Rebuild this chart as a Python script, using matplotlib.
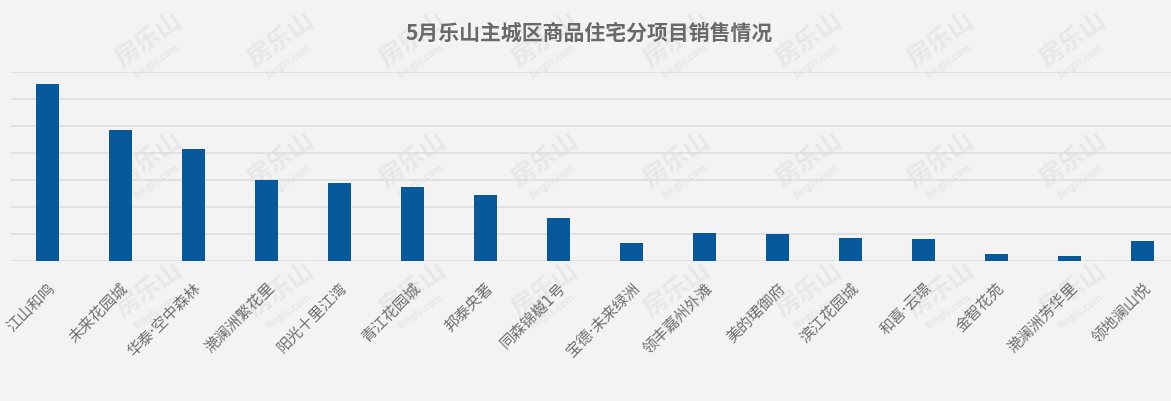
#!/usr/bin/env python

"""5月乐山主城区商品住宅分项目销售情况 bar chart."""

import numpy as np
import matplotlib
matplotlib.use('Agg')
import matplotlib.pyplot as plt

plt.rcParams['font.family'] = ['Noto Sans CJK SC', 'DejaVu Sans']

# chart data
title = '5月乐山主城区商品住宅分项目销售情况'
projects = ['江山和鸣', '未来花园城', '华泰·空中森林', '滟澜洲繁花里', '阳光十里江湾',
            '青江花园城', '邦泰央著', '同森锦樾1号', '宝德·未来绿洲', '领丰嘉州外滩',
            '美的珺御府', '滨江花园城', '和喜·云璟', '金智花苑', '滟澜洲芳华里',
            '领地澜山悦']
sales = [131, 97, 83, 60, 58, 55, 49, 32, 13, 21, 20, 17, 16, 5, 4, 15]
y_ticks = [0, 20, 40, 60, 80, 100, 120, 140]


def draw_watermarks(fig):
    """Faint site logos tiled behind the chart."""
    W, H = 1171, 401
    for yc in [40, 160, 290]:
        for xc in range(149, 1100, 132):
            fig.text(xc / W, 1 - yc / H, '房乐山', fontsize=18, fontweight='bold',
                     color='#e7e7e7', rotation=35, ha='center', va='center',
                     zorder=0)
            fig.text((xc + 8) / W, 1 - (yc + 22) / H, 'fangls.com', fontsize=7,
                     fontweight='bold', color='#e7e7e7', rotation=35,
                     ha='center', va='center', zorder=0)


def main():
    fig = plt.figure(figsize=(11.71, 4.01), dpi=100)
    fig.patch.set_facecolor('#f3f3f3')
    draw_watermarks(fig)

    W, H = 1171, 401
    ax = fig.add_axes([11 / W, (H - 261) / H, 1160 / W, (261 - 71.7) / H])
    ax.set_facecolor('none')
    ax.set_zorder(2)

    x = np.arange(len(projects))
    ax.bar(x, sales, width=0.315, color='#07599c', zorder=3)

    ax.set_ylim(y_ticks[0], y_ticks[-1])
    ax.set_yticks(y_ticks)
    ax.set_yticklabels([])
    ax.yaxis.grid(True, color='#dcdcdc', linewidth=1.1, zorder=0)
    ax.tick_params(axis='y', length=0)
    ax.set_xlim(-0.5, -0.5 + 1160 / 73)

    # DejaVu first so the middle dot stays narrow, CJK glyphs fall back
    ax.set_xticks(x)
    ax.set_xticklabels(projects, rotation=45, ha='right', va='top',
                       rotation_mode='anchor', fontsize=11, color='#707070',
                       family=['DejaVu Sans', 'Noto Sans CJK SC'])
    ax.tick_params(axis='x', length=0, pad=14)

    for s in ax.spines.values():
        s.set_visible(False)

    fig.text(589 / W, 1 - 33 / H, title, ha='center', va='center',
             fontsize=15, fontweight='bold', color='#696969')

    fig.savefig('out.png', dpi=100, facecolor=fig.get_facecolor())


if __name__ == '__main__':
    main()
